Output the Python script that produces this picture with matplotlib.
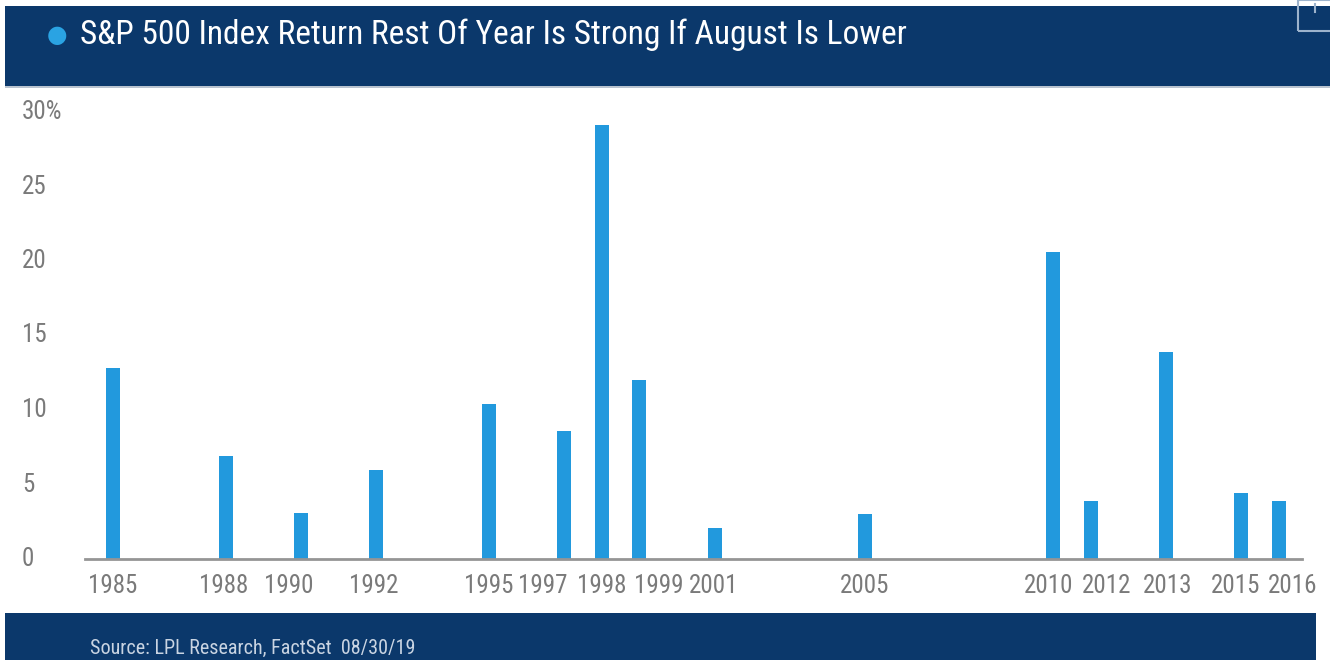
import matplotlib
matplotlib.use("Agg")
import matplotlib.pyplot as plt
from matplotlib.patches import Rectangle
from matplotlib.lines import Line2D
from matplotlib.transforms import blended_transform_factory, ScaledTranslation

# ---- data ----
year_pos = [1985, 1988, 1990, 1992, 1995, 1997, 1998, 1999, 2001, 2005, 2010, 2011, 2013, 2015, 2016]
year_labels = ["1985", "1988", "1990", "1992", "1995", "1997", "1998", "1999", "2001", "2005",
               "2010", "2012", "2013", "2015", "2016"]
returns = [12.8, 6.9, 3.1, 6.0, 10.4, 8.6, 29.1, 12.0, 2.1, 3.0, 20.6, 3.9, 13.9, 4.4, 3.9]
y_ticks = [0, 5, 10, 15, 20, 25, 30]
y_tick_labels = ["0", "5", "10", "15", "20", "25", "30%"]

title = "S&P 500 Index Return Rest Of Year Is Strong If August Is Lower"
source = "Source: LPL Research, FactSet  08/30/19"

# ---- style / layout ----
label_nudge_px = [0, -2.5, -12.5, -2.5, 0, -21, 0, 19.5, -1, 0, -4.5, 16, 1.5, -5.5, 14]
NAVY = "#0b386b"
BLUE = "#2299dd"
GRAY = "#7a7a7a"
FONT = ["Roboto Condensed", "DejaVu Sans"]

W, H = 1330, 660
fig = plt.figure(figsize=(W / 100, H / 100), dpi=100)
fig.patch.set_facecolor("white")

# header and footer bands
fig.patches.append(Rectangle((5 / W, 1 - 87 / H), 1 - 5 / W, 81 / H,
                             transform=fig.transFigure, facecolor=NAVY, edgecolor="none", zorder=0))
fig.patches.append(Rectangle((5 / W, 1 - 88 / H), 1 - 5 / W, 1.5 / H,
                             transform=fig.transFigure, facecolor="#b9c3cf", edgecolor="none", zorder=0))
fig.patches.append(Rectangle((5 / W, 0), 1311 / W, 47 / H,
                             transform=fig.transFigure, facecolor=NAVY, edgecolor="none", zorder=0))
# small icon at top right
fig.patches.append(Rectangle((1298 / W, 1 - 31 / H), 40 / W, 31 / H,
                             transform=fig.transFigure, facecolor="none", edgecolor="#9db3cc",
                             linewidth=1.5, zorder=1))
fig.lines.append(Line2D([1315 / W, 1315 / W], [1 - 4 / H, 1 - 12 / H], transform=fig.transFigure,
                        color="#9db3cc", linewidth=1.5))

fig.text(57 / W, 1 - 35 / H, "\u25CF", color="#2aa3e3", fontsize=17, ha="center", va="center",
         family=["DejaVu Sans"])
fig.text(80 / W, 1 - 35 / H, title, color="white", fontsize=24, ha="left", va="center", family=FONT)
fig.text(90 / W, 1 - 648 / H, source, color="#c9d4e2", fontsize=14.5, ha="left", va="center", family=FONT)

# axes
left, right = 85, 1302
bottom, top = 559, 112
ax = fig.add_axes([left / W, 1 - bottom / H, (right - left) / W, (bottom - top) / H])
ax.set_facecolor("none")
ax.bar(year_pos, returns, width=0.37, color=BLUE, zorder=2)
ax.set_xlim(1984.26, 2016.62)
ax.set_ylim(0, 30)

for s in ["top", "right", "left"]:
    ax.spines[s].set_visible(False)
ax.spines["bottom"].set_color("#959595")
ax.spines["bottom"].set_linewidth(2)

ax.set_xticks(year_pos)
ax.set_xticklabels(year_labels, fontsize=18, color=GRAY, family=FONT)
ax.tick_params(axis="x", length=0, pad=11)
for lab, dx in zip(ax.get_xticklabels(), label_nudge_px):
    lab.set_transform(lab.get_transform() + ScaledTranslation(dx / 100, 0, fig.dpi_scale_trans))
ax.set_yticks([])

tr = blended_transform_factory(fig.transFigure, ax.transData)
for v, lab in zip(y_ticks, y_tick_labels):
    ax.text(22 / W, v, lab, transform=tr, fontsize=18, color=GRAY, ha="left", va="center",
            family=FONT)

fig.savefig("out.png", dpi=100)
